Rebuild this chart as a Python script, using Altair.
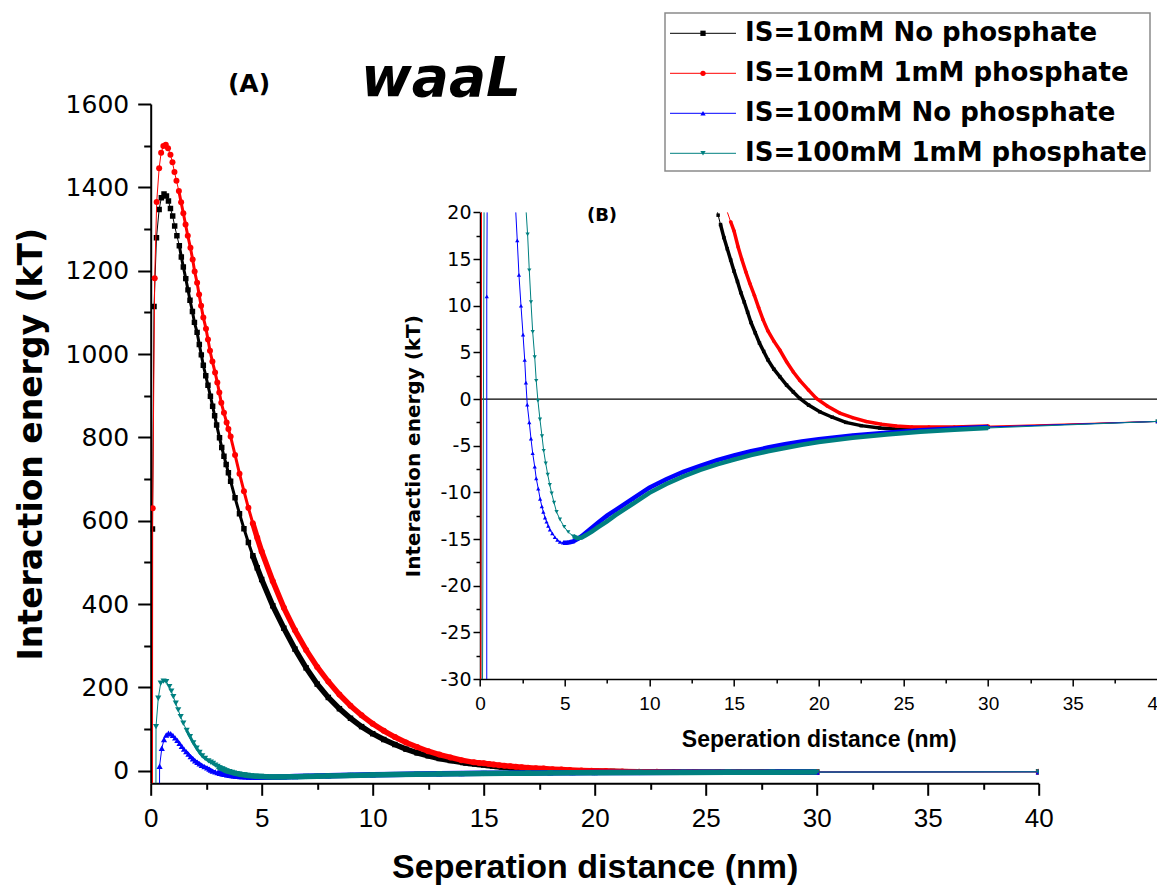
import altair as alt
import pandas as pd

# ---------------- data ----------------
SERIES = ["IS=10mM No phosphate", "IS=10mM 1mM phosphate",
          "IS=100mM No phosphate", "IS=100mM 1mM phosphate"]
COLORS = ["#000000", "#ff0000", "#0000ff", "#008080"]
SHAPES = ["square", "circle", "triangle-up", "triangle-down"]

BLACK_X = [0.04, 0.08, 0.15, 0.26, 0.38, 0.48, 0.60, 0.71, 0.80, 0.89,
           0.99, 1.08, 1.18, 1.29, 1.38, 1.47, 1.58, 1.68, 1.77, 1.88,
           1.97, 2.09, 2.19, 2.28, 2.37, 2.48, 2.58, 2.69, 2.79, 2.88,
           2.97, 3.1, 3.2, 3.3, 3.4, 3.5, 3.6, 3.8, 4.0, 4.2,
           4.4, 4.6, 4.8, 5.0, 5.5, 6.0, 6.5, 7.0, 7.5, 8.0,
           8.5, 9.0, 9.5, 10.0, 10.5, 11.0, 11.5, 12.0, 12.5, 13.0,
           13.5, 14.06, 14.2, 14.4, 14.6, 14.8, 15.0, 15.2, 15.4, 15.6,
           15.8, 16.0, 16.25, 16.5, 16.75, 17.0, 17.35, 17.7, 18.1, 18.5,
           18.88, 19.4, 20.06, 20.8, 21.6, 22.5, 23.6, 24.5, 25.56, 26.5,
           27.5, 28.5, 30.0, 40.0]
BLACK_Y = [-3000, 580, 1114, 1279, 1347, 1375, 1384, 1379, 1367, 1349,
           1331, 1307, 1284, 1260, 1233, 1209, 1181, 1154, 1129, 1102,
           1076, 1052, 1023, 998, 973, 948, 925, 899, 875, 852,
           830, 799, 776, 755, 735, 715, 695, 655, 617, 581,
           548, 516, 487, 459, 396, 342, 292, 247, 208, 176,
           149, 126, 106, 89, 75, 63, 52, 43, 36, 29.5,
           24.5, 19.7, 18.7, 17.3, 16.1, 14.9, 13.7, 12.6, 11.4, 10.4,
           9.3, 8.2, 7.1, 6.0, 5.1, 4.2, 3.2, 2.4, 1.5, 0.75,
           0.07, -0.65, -1.36, -1.95, -2.5, -2.85, -3.1, -3.2, -3.25, -3.2,
           -3.1, -3.05, -3.0, -2.4]

RED_X = [0.04, 0.09, 0.18, 0.27, 0.38, 0.47, 0.57, 0.68, 0.78, 0.89,
         0.98, 1.07, 1.16, 1.27, 1.37, 1.47, 1.57, 1.67, 1.79, 1.89,
         1.98, 2.09, 2.18, 2.27, 2.37, 2.49, 2.58, 2.67, 2.78, 2.90,
         3.00, 3.09, 3.18, 3.30, 3.42, 3.5, 3.6, 3.8, 4.0, 4.2,
         4.4, 4.6, 4.8, 5.0, 5.5, 6.0, 6.5, 7.0, 7.5, 8.0,
         8.5, 9.0, 9.5, 10.0, 10.5, 11.0, 11.5, 12.0, 12.5, 13.0,
         13.5, 14.0, 14.55, 14.8, 15.0, 15.24, 15.45, 15.7, 15.93, 16.2,
         16.45, 16.71, 17.0, 17.35, 17.7, 18.1, 18.5, 18.88, 19.4, 19.86,
         20.5, 21.24, 22.0, 22.8, 23.7, 24.57, 25.5, 26.5, 28.0, 30.0,
         40.0]
RED_Y = [-3000, 630, 1182, 1365, 1446, 1483, 1499, 1502, 1494, 1478,
         1460, 1437, 1416, 1391, 1364, 1338, 1311, 1284, 1255, 1227,
         1198, 1171, 1143, 1116, 1088, 1061, 1035, 1008, 982, 956,
         932, 908, 883, 859, 836, 820, 802, 758, 713, 671,
         631, 594, 559, 526, 455, 391, 337, 290, 249, 214,
         183, 156, 133, 113, 96, 81, 68, 57, 47, 39,
         32, 25.5, 20.3, 19.0, 18.0, 16.3, 15.0, 13.6, 12.4, 11.1,
         9.8, 8.5, 7.3, 6.2, 5.25, 4.0, 2.9, 2.0, 0.95, 0.07,
         -0.75, -1.5, -2.0, -2.4, -2.7, -2.9, -3.0, -3.0, -3.0, -2.9,
         -2.4]

BLUE_X = [0.30, 0.40, 0.50, 0.60, 0.70, 0.80, 0.90, 1.00, 1.10, 1.20,
          1.30, 1.40, 1.50, 1.60, 1.70, 1.80, 1.90, 2.00, 2.10, 2.20,
          2.30, 2.42, 2.54, 2.64, 2.71, 2.79, 2.91, 3.01, 3.11, 3.23,
          3.32, 3.44, 3.55, 3.65, 3.74, 3.84, 3.93, 4.03, 4.13, 4.27,
          4.42, 4.57, 4.72, 4.90, 5.11, 5.30, 5.50, 5.75, 6.00, 6.50,
          7.00, 7.50, 8.00, 9.00, 10.0, 11.0, 12.0, 13.0, 14.0, 15.0,
          16.0, 17.0, 18.0, 19.0, 20.0, 22.0, 24.0, 26.0, 28.0, 30.0,
          40.0]
BLUE_Y = [-3000, 11, 54, 75, 86, 90, 89, 85, 79, 73,
          66, 59, 52, 46, 40, 34, 29, 24, 20.5, 17,
          13.3, 10.0, 6.9, 4.2, 1.75, -0.6, -2.5, -4.25, -5.8, -7.25,
          -8.5, -9.6, -10.7, -11.5, -12.1, -12.7, -13.15, -13.6, -14.0, -14.4,
          -14.8, -15.1, -15.3, -15.4, -15.4, -15.35, -15.25, -15.0, -14.7, -13.95,
          -13.2, -12.5, -11.9, -10.7, -9.5, -8.6, -7.8, -7.15, -6.55, -6.05,
          -5.6, -5.2, -4.85, -4.55, -4.3, -3.9, -3.6, -3.35, -3.15, -3.0,
          -2.4]

TEAL_X = [0.15, 0.24, 0.34, 0.45, 0.58, 0.70, 0.84, 0.93, 1.02, 1.13,
          1.24, 1.35, 1.47, 1.62, 1.77, 1.92, 2.07, 2.20, 2.32, 2.45,
          2.60, 2.71, 2.81, 2.91, 3.01, 3.11, 3.23, 3.32, 3.42, 3.54,
          3.66, 3.76, 3.88, 4.00, 4.12, 4.23, 4.37, 4.52, 4.72, 4.97,
          5.21, 5.50, 5.75, 6.00, 6.29, 6.60, 7.00, 7.50, 8.00, 9.00,
          10.0, 11.0, 12.0, 13.0, 14.0, 15.0, 16.0, 17.0, 18.0, 19.0,
          20.0, 22.0, 24.0, 26.0, 28.0, 30.0, 40.0]
TEAL_Y = [-3000, 106, 174, 210, 215, 214, 202, 191, 178, 162,
          146, 130, 114, 97, 82, 67, 54, 44, 36, 30,
          24, 20.5, 17.65, 13.8, 10.4, 7.2, 4.5, 1.96, -0.18, -2.18,
          -3.97, -5.54, -6.9, -8.1, -9.2, -10.1, -11.1, -12.1, -12.9, -13.7,
          -14.25, -14.7, -14.9, -14.85, -14.55, -14.2, -13.7, -13.1, -12.45, -11.25,
          -10.05, -9.1, -8.3, -7.6, -7.0, -6.5, -6.0, -5.6, -5.25, -4.9,
          -4.6, -4.15, -3.8, -3.5, -3.3, -3.1, -2.4]

ZERO_X = [0, 40]
ZERO_Y = [0, 0]

# ---------------- layout ----------------
LEFT, TOP, W, H = 150.7, 104.0, 888.0, 679.3
FIG_W, FIG_H = 1157, 888
INSET_X_RANGE = [329.3, 1006.8]
INSET_Y_RANGE = [575.0, 108.4]


def frame(xs, ys):
    return pd.DataFrame({"x": xs, "y": ys})


def make_axis(orient, values, major, big, small, lab_font, lab_size, lab_pad,
              title, t_font, t_size, t_pad, width, offset=0):
    test = f"abs(datum.value % {major}) < 1e-9"
    return alt.Axis(
        orient=orient, values=values, offset=offset,
        labelExpr=f"{test} ? '' + datum.value : ''",
        tickSize={"condition": {"test": test, "value": big}, "value": small},
        tickWidth=width, tickColor="black", domainWidth=width, domainColor="black",
        labelFont=lab_font, labelFontSize=lab_size, labelColor="black",
        labelPadding=lab_pad, labelOverlap=False, labelFlush=False, grid=False,
        title=title, titleFont=t_font, titleFontSize=t_size, titleFontWeight="bold",
        titleColor="black", titlePadding=t_pad)


MAIN_X = alt.Scale(domain=[0, 40], nice=False, zero=False)
MAIN_Y = alt.Scale(domain=[-30, 1600], nice=False, zero=False)
INS_X = alt.Scale(domain=[0, 40], range=INSET_X_RANGE, nice=False, zero=False)
INS_Y = alt.Scale(domain=[-30, 20], range=INSET_Y_RANGE, nice=False, zero=False, clamp=True)

MAIN_X_AXIS = make_axis("bottom", [i * 2.5 for i in range(17)], 5, 12, 6,
                        "Liberation Sans", 26, 10, "Seperation distance (nm)",
                        "Liberation Sans", 34, 19, 2)
MAIN_Y_AXIS = make_axis("left", list(range(0, 1601, 100)), 200, 13, 7,
                        "DejaVu Sans", 25, 9, "Interaction energy (kT)",
                        "DejaVu Sans", 33, 17, 2)
INS_X_AXIS = make_axis("bottom", [i * 2.5 for i in range(17)], 5, 7, 4,
                       "Liberation Sans", 19, 8, "Seperation distance (nm)",
                       "Liberation Sans", 23, 15, 1.5, offset=-(H - INSET_Y_RANGE[0]))
INS_Y_AXIS = make_axis("left", [-30 + 2.5 * i for i in range(21)], 5, 7, 4,
                       "DejaVu Sans", 19, 2, "Interaction energy (kT)",
                       "DejaVu Sans", 20, 16, 1.5, offset=-INSET_X_RANGE[0])


def main_series(xs, ys, color, shape, size, thin_from, band_from):
    base = alt.Chart(frame(xs, ys)).encode(
        x=alt.X("x:Q", scale=MAIN_X, axis=MAIN_X_AXIS),
        y=alt.Y("y:Q", scale=MAIN_Y, axis=MAIN_Y_AXIS),
    )
    return [
        base.mark_line(color=color, strokeWidth=1, clip=True),
        base.transform_filter(f"datum.x >= {thin_from} && datum.x <= {band_from}")
            .mark_line(color=color, strokeWidth=3, clip=True),
        base.transform_filter(f"datum.x >= {band_from} && datum.x <= 30")
            .mark_line(color=color, strokeWidth=5.5, clip=True),
        base.mark_point(shape=shape, size=size, filled=True, color=color,
                        opacity=1, clip=True),
    ]


def inside(v):
    return f"(isValid(datum.{v}) && datum.{v} <= 20 && datum.{v} >= -30)"


def cross(b):
    return (f"({inside('py')} ? datum.px + ({b} - datum.py) * (datum.x - datum.px) / (datum.y - datum.py) : "
            f"({inside('ny')} ? datum.x + ({b} - datum.y) * (datum.nx - datum.x) / (datum.ny - datum.y) : datum.x))")


XC = f"datum.y > 20 ? {cross(20)} : (datum.y < -30 ? {cross(-30)} : datum.x)"
BRK = ("(isValid(datum.py) && ((datum.py > 20 && datum.y > 20) || "
       "(datum.py < -30 && datum.y < -30))) ? 1 : 0")


def inset_series(xs, ys, color, shape, size, band_from, band_w):
    src = alt.Chart(frame(xs, ys))
    clipped = src.transform_window(
        px="lag(x)", py="lag(y)", nx="lead(x)", ny="lead(y)",
        sort=[alt.SortField("x")],
    ).transform_calculate(
        xc=XC, yc="clamp(datum.y, -30, 20)", brk=BRK
    ).transform_window(
        run="sum(brk)", sort=[alt.SortField("x")], frame=[None, 0]
    )
    enc = dict(x=alt.X("xc:Q", scale=INS_X, axis=INS_X_AXIS),
               y=alt.Y("yc:Q", scale=INS_Y, axis=INS_Y_AXIS),
               detail="run:N")
    return [
        clipped.mark_line(color=color, strokeWidth=1).encode(**enc),
        clipped.transform_filter(f"datum.x >= {band_from} && datum.x <= 30")
               .mark_line(color=color, strokeWidth=band_w).encode(**enc),
        src.transform_filter("datum.y <= 20 && datum.y >= -30")
           .mark_point(shape=shape, size=size, filled=True, color=color, opacity=1)
           .encode(x=alt.X("x:Q", scale=INS_X, axis=INS_X_AXIS),
                   y=alt.Y("y:Q", scale=INS_Y, axis=INS_Y_AXIS)),
    ]


DATA = [(BLACK_X, BLACK_Y), (RED_X, RED_Y), (BLUE_X, BLUE_Y), (TEAL_X, TEAL_Y)]
MAIN_SIZES = [30, 36, 38, 38]
INS_SIZES = [12, 13, 18, 18]
MAIN_THIN = [1.2, 1.2, 1.6, 1.6]
MAIN_BAND = [4.6, 4.6, 3.0, 3.0]
INS_BAND = [14.2, 14.6, 4.9, 5.3]
INS_BAND_W = [3.5, 3.5, 4.5, 4.5]

main_layers = []
inset_layers = [
    alt.Chart(frame(ZERO_X, ZERO_Y)).mark_line(color="black", strokeWidth=1.2).encode(
        x=alt.X("x:Q", scale=INS_X, axis=INS_X_AXIS),
        y=alt.Y("y:Q", scale=INS_Y, axis=INS_Y_AXIS))
]
for i, (xs, ys) in enumerate(DATA):
    main_layers += main_series(xs, ys, COLORS[i], SHAPES[i], MAIN_SIZES[i],
                               MAIN_THIN[i], MAIN_BAND[i])
    inset_layers += inset_series(xs, ys, COLORS[i], SHAPES[i], INS_SIZES[i],
                                 INS_BAND[i], INS_BAND_W[i])

main_group = alt.layer(*main_layers)
inset_group = alt.layer(*inset_layers)

# ---------------- legend ----------------
leg_df = pd.DataFrame({"series": SERIES})
LEG_Y = alt.Y("series:N", scale=alt.Scale(type="point", domain=SERIES, padding=0,
                                          range=[33.3 - TOP, 153.3 - TOP]), axis=None)
LEG_C = alt.Color("series:N", scale=alt.Scale(domain=SERIES, range=COLORS), legend=None)
LEG_S = alt.Shape("series:N", scale=alt.Scale(domain=SERIES, range=SHAPES), legend=None)

legend_box = alt.Chart(pd.DataFrame({"b": [0]})).mark_rect(
    fill="white", stroke="#8a8a8a", strokeWidth=1.5).encode(
    x=alt.value(665 - LEFT), x2=alt.value(1150 - LEFT),
    y=alt.value(13 - TOP), y2=alt.value(171 - TOP))
legend_lines = alt.Chart(leg_df).mark_rule(strokeWidth=1).encode(
    x=alt.value(670 - LEFT), x2=alt.value(736 - LEFT), y=LEG_Y, color=LEG_C)
legend_pts = alt.Chart(leg_df).mark_point(filled=True, size=28, opacity=1).encode(
    x=alt.value(703 - LEFT), y=LEG_Y, color=LEG_C, shape=LEG_S)
legend_txt = alt.Chart(leg_df).mark_text(
    align="left", baseline="middle", font="DejaVu Sans", fontWeight="bold",
    fontSize=26, color="black").encode(x=alt.value(745 - LEFT), y=LEG_Y, text="series:N")

# ---------------- annotations ----------------
def note(txt, px, py, size, style="normal", font="DejaVu Sans"):
    return alt.Chart(pd.DataFrame({"t": [txt]})).mark_text(
        align="center", baseline="middle", font=font, fontWeight="bold",
        fontStyle=style, fontSize=size, color="black").encode(
        x=alt.value(px - LEFT), y=alt.value(py - TOP), text="t:N")

text_a = note("(A)", 249, 84, 25)
text_b = note("(B)", 602, 216, 18)
text_w = note("waaL", 441, 79, 55, style="italic")

chart = alt.layer(
    main_group, inset_group, legend_box, legend_lines, legend_pts, legend_txt,
    text_a, text_b, text_w,
).resolve_scale(
    x="independent", y="independent"
).resolve_axis(
    x="independent", y="independent"
).properties(
    width=W, height=H,
    padding={"left": LEFT, "top": TOP, "right": FIG_W - LEFT - W, "bottom": FIG_H - TOP - H},
    autosize=alt.AutoSizeParams(type="none"),
    background="white",
).configure_view(stroke="transparent")

chart.save("out.html", embed_options={"renderer": "svg", "actions": False})
